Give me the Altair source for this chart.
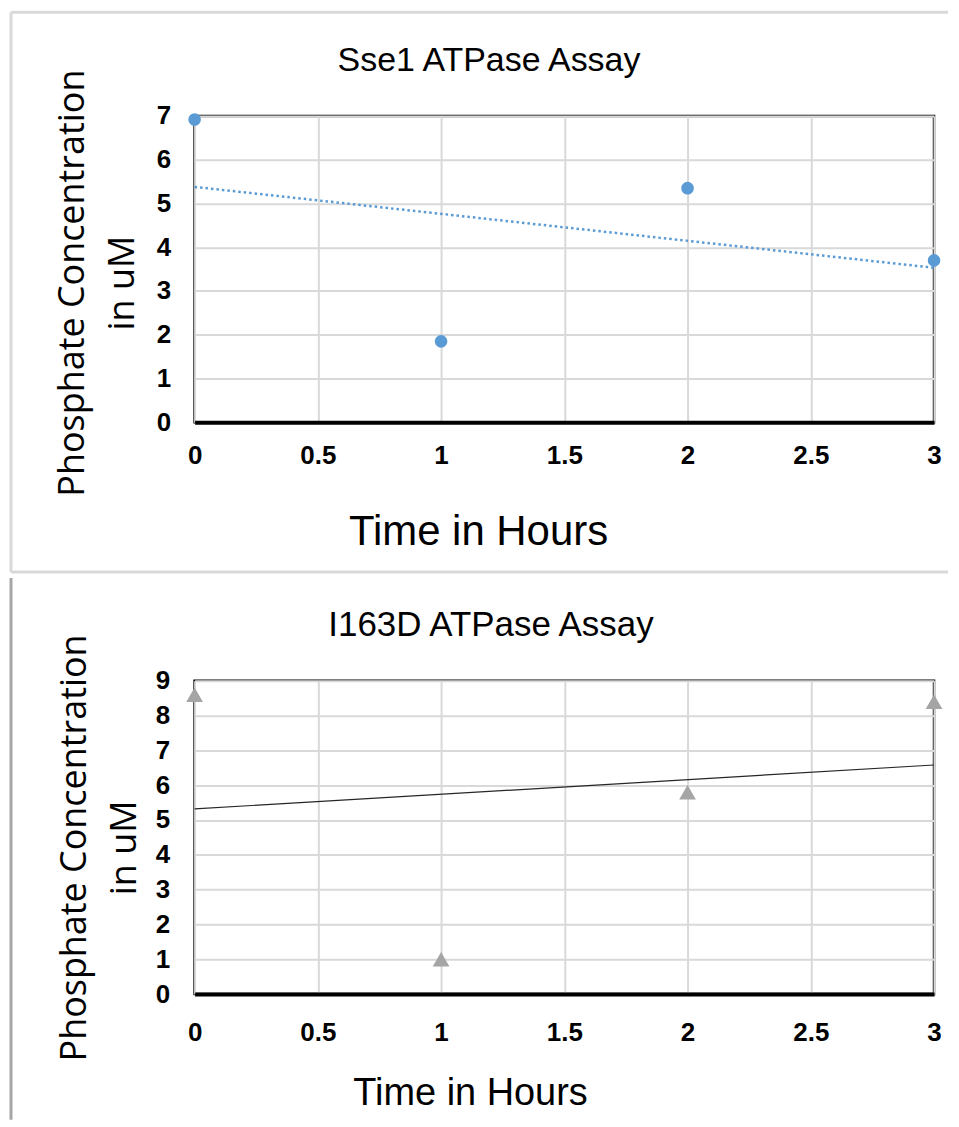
import altair as alt
import pandas as pd

# ---------------- data ----------------
hours = [0, 1, 2, 3]
sse1_phosphate = [6.92, 1.85, 5.35, 3.70]
i163d_phosphate = [8.60, 1.00, 5.80, 8.40]

x_ticks = [0, 0.5, 1, 1.5, 2, 2.5, 3]
sse1_y_ticks = [0, 1, 2, 3, 4, 5, 6, 7]
i163d_y_ticks = [0, 1, 2, 3, 4, 5, 6, 7, 8, 9]

sse1_title = "Sse1 ATPase Assay"
i163d_title = "I163D ATPase Assay"
x_title = "Time in Hours"
y_title = ["Phosphate Concentration", "in uM"]

# ---------------- styles ----------------
LFONT = "Liberation Sans"
YFONT = "Open Sans"
GRID = "#D9D9D9"
FRAME = "#D9D9D9"


def panel(values, y_max, y_ticks, title, width, height, kind, s):
    df = pd.DataFrame({"hours": hours, "value": values})
    base = alt.Chart(df)

    x = alt.X(
        "hours:Q",
        scale=alt.Scale(domain=[0, 3], nice=False, zero=False),
        axis=alt.Axis(
            values=x_ticks, tickCount=len(x_ticks) + 5, title=x_title, format="~g",
            labelFont=LFONT, labelFontWeight="bold", labelFontSize=s["xlab"],
            labelColor="black", labelPadding=s["xpad"], ticks=False,
            labelFlush=False, labelOverlap=False,
            domainColor="black", domainWidth=4,
            grid=True, gridColor=GRID, gridWidth=2,
            titleFont=LFONT, titleFontWeight="normal", titleFontSize=s["xtitle"],
            titleColor="black", titleBaseline="alphabetic",
            titleX=s["xtx"], titleY=s["xty"],
        ),
    )
    y = alt.Y(
        "value:Q",
        scale=alt.Scale(domain=[0, y_max], nice=False),
        axis=alt.Axis(
            values=y_ticks, tickCount=len(y_ticks) + 5, title=y_title, format="~g",
            labelFont=LFONT, labelFontWeight="bold", labelFontSize=s["ylab"],
            labelColor="black", labelPadding=s["ypad"], ticks=False,
            labelFlush=False, labelOverlap=False, labelSeparation=0,
            domain=False,
            grid=True, gridColor=GRID, gridWidth=2,
            titleFont=YFONT, titleFontWeight="normal", titleFontSize=s["ytitle"],
            titleColor="black", titleBaseline="alphabetic", titleAngle=270,
            titleLineHeight=50, titleAlign="center",
            titleX=s["ytx"], titleY=s["yty"],
        ),
    )

    if kind == "circle":
        points = base.mark_circle(size=160, color="#5B9BD5", opacity=1).encode(x=x, y=y)
        trend = base.transform_regression("hours", "value").mark_line(
            color="#5B9BD5", strokeWidth=2.5, strokeDash=[2.5, 3]
        ).encode(x="hours:Q", y="value:Q")
    else:
        points = base.mark_point(
            shape="triangle-up", size=280, filled=True, color="#A5A5A5", opacity=1
        ).encode(x=x, y=y)
        trend = base.transform_regression("hours", "value").mark_line(
            color="#262626", strokeWidth=1.2
        ).encode(x="hours:Q", y="value:Q")

    one = alt.Chart(pd.DataFrame({"f": [0]}))
    frame = []
    for (fx, fx2, fy, fy2, col) in s["frame"]:
        enc = {"x": alt.value(fx), "y": alt.value(fy)}
        if fx2 is not None:
            enc["x2"] = alt.value(fx2)
        if fy2 is not None:
            enc["y2"] = alt.value(fy2)
        frame.append(one.mark_rule(color=col, strokeWidth=3).encode(**enc))

    title_mark = one.mark_text(
        text=title, font=LFONT, fontSize=s["title"], color="black",
        align="center", baseline="alphabetic",
    ).encode(x=alt.value(s["tx"]), y=alt.value(s["ty"]))

    return alt.layer(*frame, title_mark, trend, points).properties(
        width=width, height=height
    )


top = panel(
    sse1_phosphate, 7, sse1_y_ticks, sse1_title, 741, 307, "circle",
    dict(xlab=26, xpad=20, xtitle=42, xtx=284, xty=122,
         ylab=26, ypad=24, ytitle=36, ytx=-111, yty=167,
         title=34, tx=295, ty=-45,
         frame=[(-184, None, -104, 457, FRAME),
                (-184, 755, -104, None, FRAME),
                (-184, 755, 457, None, FRAME)]),
)
bottom = panel(
    i163d_phosphate, 9, i163d_y_ticks, i163d_title, 741, 314, "triangle",
    dict(xlab=26, xpad=26, xtitle=38, xtx=276, xty=111,
         ylab=26, ypad=25, ytitle=36, ytx=-109, yty=167,
         title=35, tx=297, ty=-45,
         frame=[(-184, None, -103, 440, "#A6A6A6")]),
)

chart = (
    alt.vconcat(top, bottom, spacing=0)
    .resolve_scale(x="independent", y="independent")
    .properties(padding={"left": 0, "top": 0, "right": 0, "bottom": 0})
    .configure_view(stroke="black", strokeWidth=2.5)
)

chart.save("out.html", embed_options={"renderer": "svg", "actions": False})
